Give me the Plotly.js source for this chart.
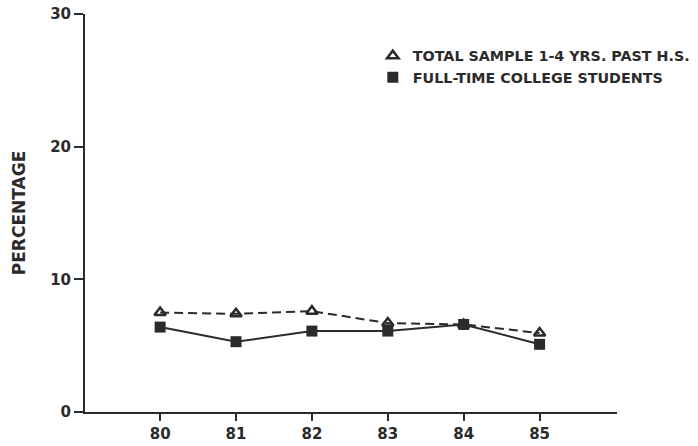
<!DOCTYPE html>
<html>
<head>
<meta charset="utf-8">
<script src="https://cdn.plot.ly/plotly-3.0.1.min.js"></script>
<style>html,body{margin:0;padding:0;background:#fff;}#chart{width:698px;height:446px;}</style>
</head>
<body>
<div id="chart"></div>
<script>
const years = [80, 81, 82, 83, 84, 85];
const yearLabels = ["80", "81", "82", "83", "84", "85"];
const totalSample = [7.5, 7.4, 7.6, 6.7, 6.6, 5.95];
const fullTime = [6.4, 5.3, 6.1, 6.1, 6.6, 5.1];
const yTicks = [0, 10, 20, 30];
const seriesNames = ["TOTAL SAMPLE 1-4 YRS. PAST H.S.", "FULL-TIME COLLEGE STUDENTS"];

const ink = '#2b2b2b';
const fam = 'DejaVu Sans, Liberation Sans, Arial, sans-serif';
const fnt = {family: fam, size: 15, color: ink, weight: 'bold'};

const traces = [
  {x: years, y: totalSample, mode: 'lines', line: {color: ink, width: 2, dash: '9px,5px'}, showlegend: false, hoverinfo: 'skip'},
  {x: years, y: fullTime, mode: 'lines', line: {color: ink, width: 2}, showlegend: false, hoverinfo: 'skip'},
  {x: years, y: fullTime, mode: 'markers', name: seriesNames[1], marker: {symbol: 'square', size: 11, color: ink}},
  {x: years, y: totalSample, mode: 'markers', name: seriesNames[0], marker: {symbol: 'triangle-up-open', size: 10, color: ink, line: {width: 2.5, color: ink}}}
];

const layout = {
  width: 698, height: 446,
  margin: {l: 85, r: 81, t: 14, b: 34, autoexpand: false},
  paper_bgcolor: '#fff', plot_bgcolor: '#fff',
  font: fnt,
  showlegend: true,
  legend: {
    x: 0.541, y: 0.935, xanchor: 'left', yanchor: 'top',
    traceorder: 'reversed',
    font: {family: fam, size: 14.3, color: ink, weight: 'bold'},
    itemwidth: 30, bgcolor: 'rgba(0,0,0,0)', tracegroupgap: 0
  },
  xaxis: {
    range: [79.01, 86.02], tickvals: years, ticktext: yearLabels,
    showgrid: false, zeroline: false,
    showline: true, linecolor: ink, linewidth: 2,
    ticks: 'outside', ticklen: 7, tickwidth: 2, tickcolor: ink,
    tickfont: fnt
  },
  yaxis: {
    range: [0, 30], tickvals: yTicks,
    showgrid: false, zeroline: false,
    showline: true, linecolor: ink, linewidth: 2,
    ticks: 'outside', ticklen: 9, tickwidth: 2, tickcolor: ink,
    tickfont: fnt,
    title: {text: 'PERCENTAGE', font: {family: fam, size: 17, color: ink, weight: 'bold'}, standoff: 20}
  }
};

Plotly.newPlot('chart', traces, layout, {displayModeBar: false, staticPlot: true});
</script>
</body>
</html>
